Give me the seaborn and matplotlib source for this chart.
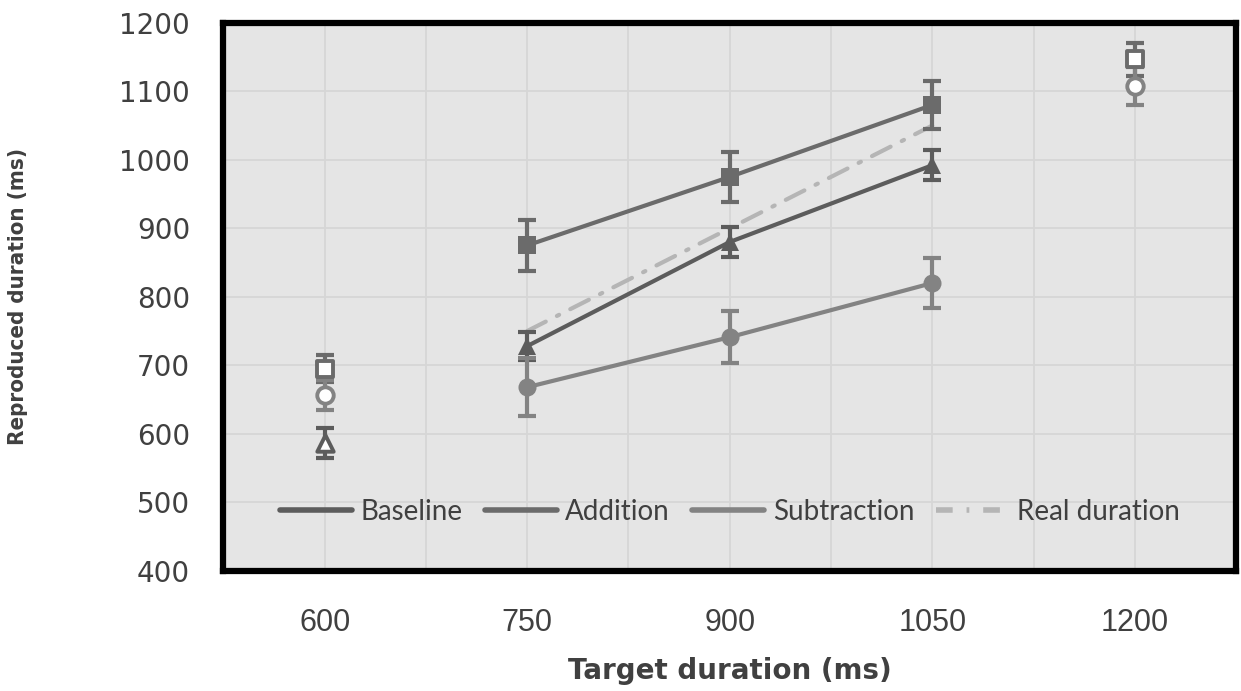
import numpy as np
import pandas as pd
import matplotlib.pyplot as plt
from matplotlib.lines import Line2D
import seaborn as sns

# trained target durations (connected series)
targets = [750, 900, 1050]
baseline = [728, 880, 992]
baseline_err = [20, 22, 22]
addition = [875, 975, 1080]
addition_err = [37, 37, 35]
subtraction = [668, 741, 820]
subtraction_err = [42, 38, 36]
real_duration = [750, 900, 1050]

# untrained durations (open markers)
open_target = [600, 600, 600, 1200, 1200]
open_value = [695, 656, 586, 1147, 1108]
open_err = [20, 22, 22, 24, 28]
open_cond = ["Addition", "Subtraction", "Baseline", "Addition", "Subtraction"]

colors = {"Baseline": "#5c5c5c", "Addition": "#6b6b6b", "Subtraction": "#838383"}
markers = {"Baseline": "^", "Addition": "s", "Subtraction": "o"}
real_color = "#b5b5b5"

df = pd.DataFrame({
    "condition": ["Baseline"] * 3 + ["Addition"] * 3 + ["Subtraction"] * 3,
    "target": targets * 3,
    "reproduced": baseline + addition + subtraction,
    "err": baseline_err + addition_err + subtraction_err,
})
df_open = pd.DataFrame({"condition": open_cond, "target": open_target,
                        "reproduced": open_value, "err": open_err})

sns.set_style("white")
plt.rcParams["font.family"] = ["DejaVu Sans"]

fig = plt.figure(figsize=(12.41, 6.91), dpi=100)
ax = fig.add_axes([0.18, 0.174, 0.816, 0.793])
ax.set_facecolor("#e5e5e5")

# real duration reference line
sns.lineplot(x=targets, y=real_duration, color=real_color, lw=3, ax=ax,
             dashes=False, zorder=2)
ax.lines[-1].set_dashes([5, 3, 0.6, 3])
ax.lines[-1].set_dash_capstyle("round")

# error bars
for cond, sub in pd.concat([df, df_open]).groupby("condition"):
    ax.errorbar(sub["target"], sub["reproduced"], yerr=sub["err"], fmt="none",
                ecolor=colors[cond], elinewidth=3, capsize=6.5, capthick=3, zorder=3)

# connected series
sns.lineplot(data=df, x="target", y="reproduced", hue="condition", style="condition",
             markers=markers, dashes=False, palette=colors, lw=3, markersize=13,
             markeredgewidth=0, ax=ax, legend=False, zorder=4)

# open markers for untrained durations
for cond, sub in df_open.groupby("condition"):
    sns.scatterplot(x=sub["target"], y=sub["reproduced"], marker=markers[cond], s=140,
                    facecolor="white", edgecolor=colors[cond], linewidth=2.8,
                    ax=ax, zorder=5)

ax.set_xlim(525, 1275)
ax.set_ylim(400, 1200)
ax.set_xticks([600, 750, 900, 1050, 1200])
ax.set_xticks(np.arange(525, 1276, 75), minor=True)
ax.set_yticks(np.arange(400, 1201, 100))
ax.grid(True, which="both", axis="x", color="#d6d6d6", lw=1.3)
ax.grid(True, which="major", axis="y", color="#d6d6d6", lw=1.3)
ax.set_axisbelow(True)
ax.tick_params(which="both", length=0)
ax.tick_params(axis="y", pad=24, labelsize=20, labelcolor="#404040")
ax.tick_params(axis="x", pad=27, labelsize=22, labelcolor="#404040")
for lab in ax.get_xticklabels():
    lab.set_family(["Liberation Sans", "DejaVu Sans"])

for sp in ax.spines.values():
    sp.set_visible(True)
    sp.set_color("black")
    sp.set_linewidth(4.5)

ax.set_xlabel("Target duration (ms)", fontsize=20, fontweight="bold", color="#404040")
ax.set_ylabel("Reproduced duration (ms)", fontsize=16, fontweight="bold", color="#404040",
              family=["DejaVu Sans"], fontstretch="condensed")
ax.xaxis.set_label_coords(0.5, -0.158)
ax.yaxis.set_label_coords(-0.1925, 0.5)

handles = [
    Line2D([], [], color=colors["Baseline"], lw=4),
    Line2D([], [], color=colors["Addition"], lw=4),
    Line2D([], [], color=colors["Subtraction"], lw=4),
    Line2D([], [], color=real_color, lw=4, dashes=[3, 2.5, 0.5, 2.5]),
]
leg = ax.legend(handles, ["Baseline", "Addition", "Subtraction", "Real duration"],
                loc="center", bbox_to_anchor=(0.5, 0.108), ncol=4, frameon=False,
                handlelength=2.6, handletextpad=0.3, columnspacing=0.8,
                prop={"family": ["Lato", "DejaVu Sans"], "size": 20})
for t in leg.get_texts():
    t.set_color("#404040")

fig.savefig("out.png", dpi=100)
